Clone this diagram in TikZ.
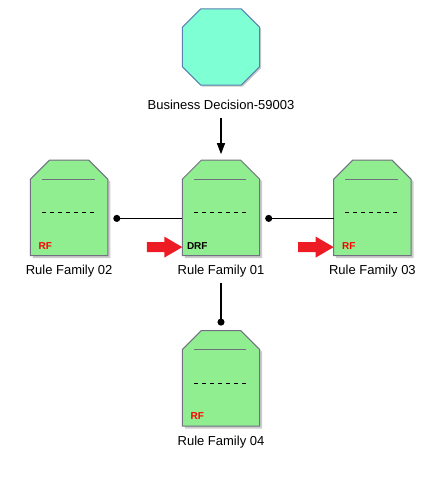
\documentclass[tikz,border=0pt]{standalone}
\usepackage{fontspec}
\setmainfont{Liberation Sans}
\usetikzlibrary{positioning,shadows,arrows.meta}
\definecolor{aqua}{HTML}{7FFFD4}
\definecolor{octline}{HTML}{5A80B0}
\definecolor{boxgreen}{HTML}{90EE90}
\definecolor{boxline}{HTML}{707080}
\definecolor{flagred}{HTML}{ED1C24}

\begin{document}
\begin{tikzpicture}
        [x=1pt, y=1pt, font=\fontsize{13}{15}\selectfont,
        decision/.style={rectangle, minimum width=77pt, minimum height=76pt, inner sep=0pt},
        rulebox/.style={rectangle, minimum width=77pt, minimum height=95pt, inner sep=0pt},
        octfrm/.style={fill=aqua, draw=octline, line width=1pt,
        drop shadow={shadow xshift=1.5pt, shadow yshift=-1.5pt, fill=black!40}},
        rulefrm/.style={fill=boxgreen, draw=boxline, line width=1pt,
        drop shadow={shadow xshift=2.5pt, shadow yshift=-2.5pt, fill=black!40}},
        every label/.style={inner sep=0pt, label distance=9.5pt},
        ruletag/.style={inner sep=0pt, font=\fontsize{10}{12}\selectfont\bfseries},
        link/.style={draw=black, line width=1.2pt, -{Circle[length=7pt]}},
        flow/.style={draw=black, line width=1.2pt, -{Triangle[width=8pt,length=11pt]}},
        node distance=75pt]
        \useasboundingbox (0,0) rectangle (437,-495);
        \node[decision, label={[name=bd-l, label distance=15pt]below:Business Decision-59003}]
            (bd) at (221,-47) {};
        \node[rulebox, below=of bd, label={[name=rf01-l]below:Rule Family 01}] (rf01) {};
        \node[rulebox, left=74.5pt of rf01, label={[name=rf02-l]below:Rule Family 02}] (rf02) {};
        \node[rulebox, right=74pt of rf01, label={[name=rf03-l]below:Rule Family 03}] (rf03) {};
        \node[rulebox, below=of rf01, label={[name=rf04-l]below:Rule Family 04}] (rf04) {};
        % octagon
        \path[octfrm] ([yshift=18.5pt]bd.south west) -- ([yshift=-18.5pt]bd.north west)
            -- ([xshift=18.5pt]bd.north west) -- ([xshift=-18.5pt]bd.north east)
            -- ([yshift=-18.5pt]bd.north east) -- ([yshift=18.5pt]bd.south east)
            -- ([xshift=-18.5pt]bd.south east) -- ([xshift=18.5pt]bd.south west) -- cycle;
        % rule boxes, inner lines and tags
        \foreach \n/\t/\c in {rf01/DRF/black, rf02/RF/red, rf03/RF/red, rf04/RF/red} {
            \path[rulefrm] (\n.south west) -- ([yshift=-19pt]\n.north west)
                -- ([xshift=19pt]\n.north west) -- ([xshift=-19pt]\n.north east)
                -- ([yshift=-19pt]\n.north east) -- (\n.south east) -- cycle;
            \draw[boxline, line width=1pt] ([xshift=11.7pt, yshift=-19.3pt]\n.north west)
                -- ([xshift=-13.3pt, yshift=-19.3pt]\n.north east);
            \draw[black, line width=1pt, dash pattern=on 4pt off 4pt]
                ([xshift=11.7pt, yshift=-52.7pt]\n.north west)
                -- ([xshift=-13.3pt, yshift=-52.7pt]\n.north east);
            \node[ruletag, text=\c, anchor=base] (\n-tag)
                at ([xshift=15pt, yshift=6.3pt]\n.south west) {\t};
        }
        % red pointers
        \foreach \n in {rf01, rf03} {
            \fill[flagred] ([yshift=8.5pt]\n.south west) -- ++(-18,10.5) -- ++(0,-5.5)
                -- ++(-17.5,0) -- ++(0,-10) -- ++(17.5,0) -- ++(0,-5.5) -- cycle;
        }
        % connectors
        \draw[flow, shorten <=7.7pt, shorten >=6pt] (bd-l.base) -- (rf01.north);
        \draw[link, shorten >=5.5pt] ([yshift=-10.5pt]rf01.west) -- ([yshift=-10.5pt]rf02.east);
        \draw[link, shorten >=5.5pt] ([yshift=-10.5pt]rf03.west) -- ([yshift=-10.5pt]rf01.east);
        \draw[link, shorten <=8pt, shorten >=5pt] (rf01-l.base) -- (rf04.north);
\end{tikzpicture}
\end{document}
